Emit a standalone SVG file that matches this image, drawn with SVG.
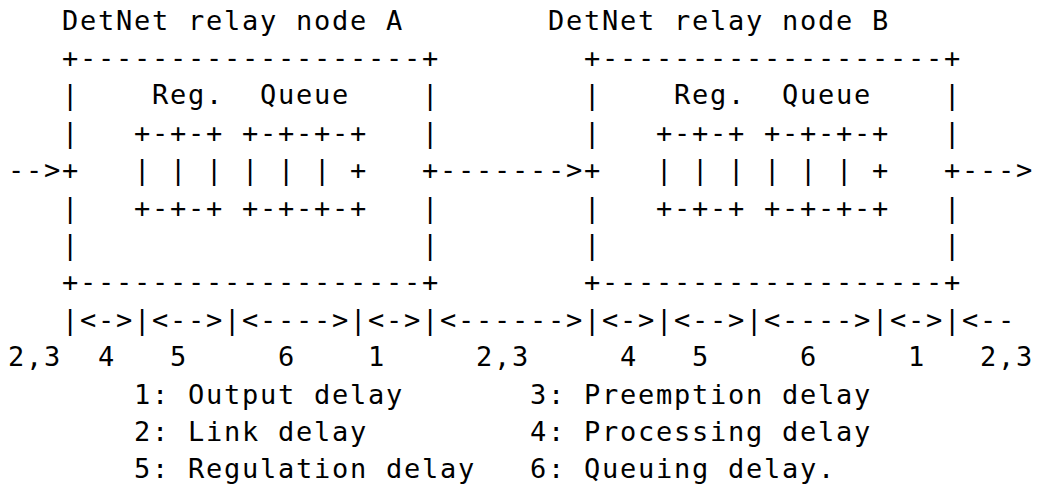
<svg xmlns="http://www.w3.org/2000/svg" width="1040" height="491" viewBox="0 0 1040 491">
<style>
text{font-family:"DejaVu Sans Mono","Liberation Mono",monospace;font-size:27px;letter-spacing:1.746px;fill:#000;white-space:pre}
</style>
<rect width="1040" height="491" fill="#fff"/>
<g id="nodeA" xml:space="preserve">
<text x="62" y="29.5">DetNet relay node A</text>
<text x="62" y="66.9">+-------------------+</text>
<text x="62" y="104.3">|    Reg.  Queue    |</text>
<text x="62" y="141.7">|   +-+-+ +-+-+-+   |</text>
<text x="62" y="179.1">+   | | | | | | +   +</text>
<text x="62" y="216.5">|   +-+-+ +-+-+-+   |</text>
<text x="62" y="253.9">|                   |</text>
<text x="62" y="291.3">+-------------------+</text>
</g>
<g id="nodeB" xml:space="preserve">
<text x="548" y="29.5">DetNet relay node B</text>
<text x="584" y="66.9">+-------------------+</text>
<text x="584" y="104.3">|    Reg.  Queue    |</text>
<text x="584" y="141.7">|   +-+-+ +-+-+-+   |</text>
<text x="584" y="179.1">+   | | | | | | +   +</text>
<text x="584" y="216.5">|   +-+-+ +-+-+-+   |</text>
<text x="584" y="253.9">|                   |</text>
<text x="584" y="291.3">+-------------------+</text>
</g>
<g id="connectors">
<text x="8" y="179.1">--&gt;</text>
<text x="440" y="179.1">-------&gt;</text>
<text x="962" y="179.1">---&gt;</text>
</g>
<g id="delays">
<text x="62" y="328.7">|&lt;-&gt;|&lt;--&gt;|&lt;----&gt;|&lt;-&gt;|&lt;------&gt;|&lt;-&gt;|&lt;--&gt;|&lt;----&gt;|&lt;-&gt;|&lt;--</text>
<text x="8" y="366.1">2,3</text>
<text x="98" y="366.1">4</text>
<text x="170" y="366.1">5</text>
<text x="278" y="366.1">6</text>
<text x="368" y="366.1">1</text>
<text x="476" y="366.1">2,3</text>
<text x="620" y="366.1">4</text>
<text x="692" y="366.1">5</text>
<text x="800" y="366.1">6</text>
<text x="908" y="366.1">1</text>
<text x="980" y="366.1">2,3</text>
</g>
<g id="legend">
<text x="134" y="403.5">1: Output delay</text>
<text x="530" y="403.5">3: Preemption delay</text>
<text x="134" y="440.9">2: Link delay</text>
<text x="530" y="440.9">4: Processing delay</text>
<text x="134" y="478.3">5: Regulation delay</text>
<text x="530" y="478.3">6: Queuing delay.</text>
</g>
</svg>
